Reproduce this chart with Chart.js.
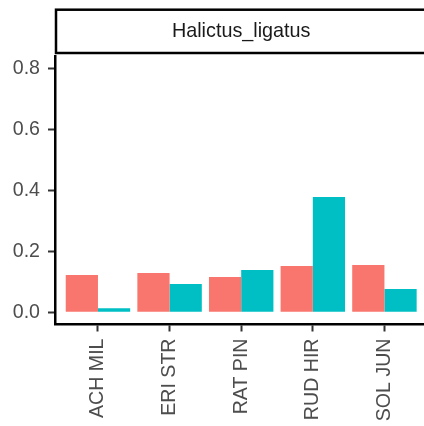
<!DOCTYPE html>
<html>
<head>
<meta charset="utf-8">
<script src="https://cdn.jsdelivr.net/npm/chart.js@4"></script>
<style>
    html, body { margin: 0; padding: 0; background: #fff; overflow: hidden; }
    #wrap { width: 424px; height: 426px; overflow: hidden; }
    canvas { display: block; }
</style>
</head>
<body>
<div id="wrap"><canvas id="grafico" width="440" height="426" style="width:440px;height:426px"></canvas></div>
<script>
// Dados
const categorias = ['ACH MIL', 'ERI STR', 'RAT PIN', 'RUD HIR', 'SOL JUN'];
const serieVermelha = [0.122, 0.129, 0.116, 0.152, 0.155];
const serieCiano = [0.013, 0.093, 0.139, 0.378, 0.076];
const ticksY = [0, 0.2, 0.4, 0.6, 0.8];
const tituloPainel = 'Halictus_ligatus';

const fonte = '"Liberation Sans", Arial, Helvetica, sans-serif';
const corTexto = '#4D4D4D';

/**
 * Desenha a faixa do título do painel (estilo facet do ggplot).
 */
const faixaTitulo = {
    id: 'faixaTitulo',
    afterDraw(chart) {
        const ctx = chart.ctx;
        const area = chart.chartArea;
        const esquerda = area.left + 1;
        const topo = 9.7;
        const altura = 43.3;
        ctx.save();
        ctx.fillStyle = '#fff';
        ctx.fillRect(esquerda, topo, chart.width, altura);
        ctx.lineWidth = 2.5;
        ctx.strokeStyle = '#000';
        ctx.strokeRect(esquerda, topo, chart.width - esquerda + 10, altura);
        ctx.fillStyle = '#1A1A1A';
        ctx.font = '19.8px ' + fonte;
        ctx.textAlign = 'center';
        ctx.textBaseline = 'middle';
        ctx.fillText(tituloPainel, (area.left + area.right) / 2, topo + altura / 2 + 0.5);
        ctx.restore();
    }
};

const ctx = document.getElementById('grafico').getContext('2d');
new Chart(ctx, {
    type: 'bar',
    data: {
        datasets: [{
            data: serieVermelha.map((v, i) => ({ x: i, y: v })),
            backgroundColor: '#F8766D',
            borderWidth: 0
        }, {
            data: serieCiano.map((v, i) => ({ x: i, y: v })),
            backgroundColor: '#00BFC4',
            borderWidth: 0
        }]
    },
    options: {
        responsive: false,
        animation: false,
        categoryPercentage: 0.9,
        barPercentage: 1,
        layout: { padding: { top: 56, right: 12.6, bottom: 0, left: 0 } },
        plugins: {
            legend: { display: false },
            tooltip: { enabled: false }
        },
        scales: {
            x: {
                type: 'linear',
                min: -0.6,
                max: 4.6,
                offset: false,
                afterBuildTicks: scale => { scale.ticks = categorias.map((_, i) => ({ value: i })); },
                afterFit: scale => { scale.height = 101.5; },
                grid: { offset: false, drawOnChartArea: false, tickLength: 7, tickWidth: 2, color: '#333' },
                border: { color: '#000', width: 2.5 },
                ticks: {
                    autoSkip: false,
                    maxRotation: 90,
                    minRotation: 90,
                    padding: 7,
                    color: corTexto,
                    font: { family: fonte, size: 19.6 },
                    callback: v => categorias[v]
                }
            },
            y: {
                min: -0.04,
                max: 0.84,
                afterBuildTicks: scale => { scale.ticks = ticksY.map(v => ({ value: v })); },
                afterFit: scale => { scale.width = 55; },
                grid: { drawOnChartArea: false, tickLength: 7, tickWidth: 2, color: '#333' },
                border: { color: '#000', width: 2.5 },
                ticks: {
                    padding: 8,
                    color: corTexto,
                    font: { family: fonte, size: 19.6 },
                    callback: v => v.toFixed(1)
                }
            }
        }
    },
    plugins: [faixaTitulo]
});
</script>
</body>
</html>
